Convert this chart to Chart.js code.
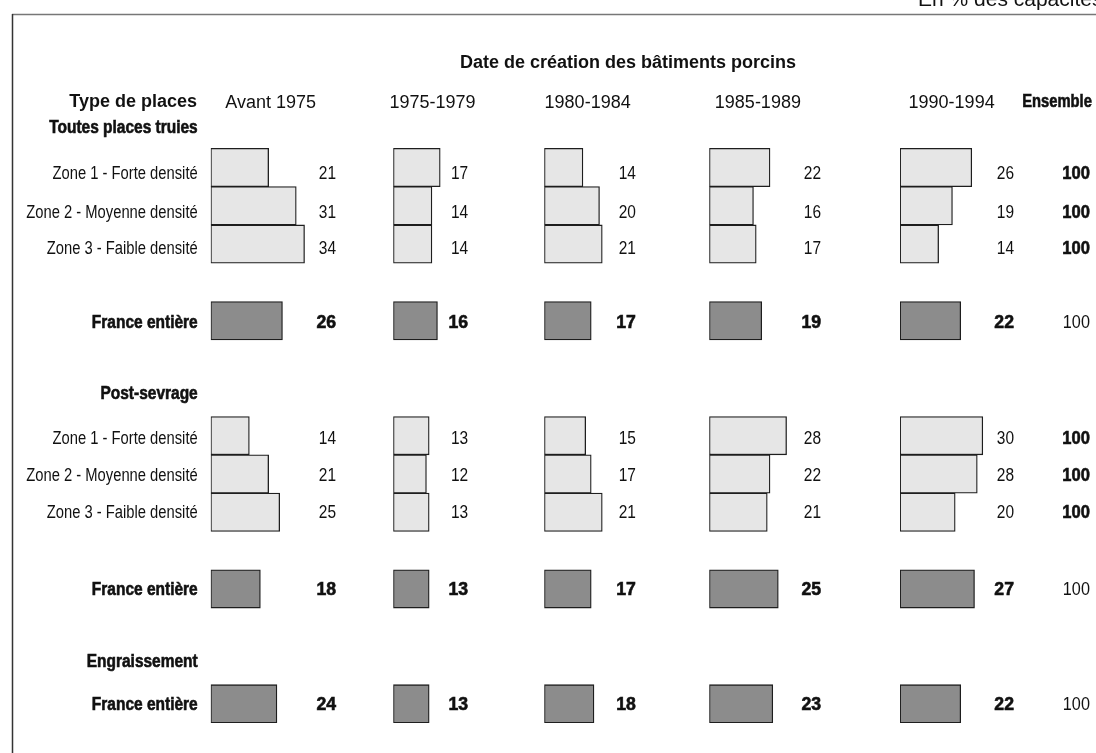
<!DOCTYPE html>
<html lang="fr">
<head>
<meta charset="utf-8">
<title>Date de création des bâtiments porcins</title>
<script src="https://cdn.jsdelivr.net/npm/chart.js@4/dist/chart.umd.min.js"></script>
<style>
  html, body { margin: 0; padding: 0; background: #fff; }
  #chart { display: block; }
</style>
</head>
<body>
<canvas id="chart" width="1096" height="753"></canvas>
<script>
// periodes de creation des batiments
const periods = ['Avant 1975', '1975-1979', '1980-1984', '1985-1989', '1990-1994'];

// en % des capacites, une valeur par periode
const truiesZone1 = [21, 17, 14, 22, 26];
const truiesZone2 = [31, 14, 20, 16, 19];
const truiesZone3 = [34, 14, 21, 17, 14];
const truiesFrance = [26, 16, 17, 19, 22];

const postZone1 = [14, 13, 15, 28, 30];
const postZone2 = [21, 12, 17, 22, 28];
const postZone3 = [25, 13, 21, 21, 20];
const postFrance = [18, 13, 17, 25, 27];

const engrFrance = [24, 13, 18, 23, 22];

const ensemble = 100;

// lignes du tableau: libelle, valeurs, type
const rows = [
    ['Toutes places truies', null, 'head'],
    ['Zone 1 - Forte densité', truiesZone1, 'zone'],
    ['Zone 2 - Moyenne densité', truiesZone2, 'zone'],
    ['Zone 3 - Faible densité', truiesZone3, 'zone'],
    ['', null, 'gap'],
    ['France entière', truiesFrance, 'france'],
    ['', null, 'gap'],
    ['Post-sevrage', null, 'head'],
    ['Zone 1 - Forte densité', postZone1, 'zone'],
    ['Zone 2 - Moyenne densité', postZone2, 'zone'],
    ['Zone 3 - Faible densité', postZone3, 'zone'],
    ['', null, 'gap'],
    ['France entière', postFrance, 'france'],
    ['', null, 'gap'],
    ['Engraissement', null, 'head'],
    ['France entière', engrFrance, 'france']
];

// mise en page (pixels / unites d'axe)
const SANS = '"Liberation Sans", Arial, sans-serif';
const pxPerUnit = 2.76;
const colWidths = [182.6, 151, 165, 190.7, 196];
const headerAt = [21.7, 14.2, 15.7, 17.6, 18.7];
const valueAt = [45.4, 27.1, 33.2, 40.5, 41.3];
const ensembleAt = 68.8;
const textShift = [-1, 7, 7, 5, 0, 2, 0, -3, 3, 2, 1, 0, 1, 0, -4, 1];

const labels = rows.map(r => r[0]);
const kinds = rows.map(r => r[2]);

const datasets = periods.map((p, i) => ({
    label: p,
    xAxisID: 'x' + i,
    yAxisID: 'y',
    data: rows.map(r => r[1] ? r[1][i] : null),
    backgroundColor: ctx => kinds[ctx.dataIndex] === 'france' ? '#8c8c8c' : '#e6e6e6',
    borderColor: '#1e1e1e',
    borderWidth: 1.3,
    borderSkipped: false,
    barPercentage: 1,
    categoryPercentage: 1,
    grouped: false
}));

const scales = {
    y: {
        type: 'category',
        position: 'left',
        grid: { display: false, drawTicks: false },
        border: { display: false },
        ticks: { display: false, autoSkip: false },
        afterFit: scale => { scale.width = 210.7; }
    }
};
periods.forEach((p, i) => {
    scales['x' + i] = {
        type: 'linear',
        axis: 'x',
        position: 'bottom',
        display: false,
        stack: 'cols',
        stackWeight: colWidths[i],
        min: 0,
        max: colWidths[i] / pxPerUnit
    };
});

// texte etroit : police compressee horizontalement
function narrowText(ctx, text, x, y, bold, align, squeeze) {
    ctx.save();
    ctx.translate(x, y);
    ctx.scale(squeeze, 1);
    ctx.font = (bold ? 'bold ' : '') + '18px ' + SANS;
    ctx.textAlign = align;
    ctx.fillText(text, 0, 0);
    if (bold) {
        ctx.lineWidth = 0.6;
        ctx.strokeStyle = ctx.fillStyle;
        ctx.strokeText(text, 0, 0);
    }
    ctx.restore();
}

const decor = {
    id: 'decor',
    beforeDraw(chart) {
        const ctx = chart.ctx;
        ctx.save();
        // cadre
        ctx.lineWidth = 1.5;
        ctx.strokeStyle = '#777';
        ctx.beginPath();
        ctx.moveTo(12, 14.5);
        ctx.lineTo(chart.width, 14.5);
        ctx.stroke();
        ctx.strokeStyle = '#333';
        ctx.beginPath();
        ctx.moveTo(12.5, 14);
        ctx.lineTo(12.5, chart.height);
        ctx.stroke();

        ctx.fillStyle = '#111';
        ctx.textBaseline = 'alphabetic';
        ctx.font = '21px ' + SANS;
        ctx.textAlign = 'left';
        ctx.fillText('En % des capacités', 918, 6);

        ctx.font = 'bold 18px ' + SANS;
        ctx.textAlign = 'center';
        ctx.fillText('Date de création des bâtiments porcins', 628, 68);

        ctx.textAlign = 'right';
        ctx.fillText('Type de places', 197, 107);

        ctx.font = '18px ' + SANS;
        ctx.textAlign = 'center';
        periods.forEach((p, i) => {
            const x = chart.scales['x' + i].getPixelForValue(headerAt[i]);
            ctx.fillText(p, x, 108);
        });

        narrowText(ctx, 'Ensemble', chart.scales.x4.getPixelForValue(ensembleAt) + 2, 107, true, 'right', 0.82);

        // libelles des lignes
        ctx.textBaseline = 'middle';
        const yScale = chart.scales.y;
        labels.forEach((lab, j) => {
            if (!lab) return;
            const bold = kinds[j] !== 'zone';
            const y = yScale.getPixelForTick(j) + textShift[j];
            narrowText(ctx, lab, yScale.right - 13, y, bold, 'right', bold ? 0.86 : 0.82);
        });
        ctx.restore();
    },
    afterDatasetsDraw(chart) {
        const ctx = chart.ctx;
        ctx.save();
        ctx.fillStyle = '#111';
        ctx.textBaseline = 'middle';
        chart.data.datasets.forEach((ds, i) => {
            const meta = chart.getDatasetMeta(i);
            const x = chart.scales['x' + i].getPixelForValue(valueAt[i]);
            ds.data.forEach((v, j) => {
                if (v === null) return;
                const bold = kinds[j] === 'france';
                narrowText(ctx, String(v), x, meta.data[j].y + textShift[j], bold, 'right', bold ? 0.98 : 0.86);
            });
        });
        // colonne Ensemble
        const meta0 = chart.getDatasetMeta(0);
        const xe = chart.scales.x4.getPixelForValue(ensembleAt);
        kinds.forEach((k, j) => {
            if (k !== 'zone' && k !== 'france') return;
            const bold = k === 'zone';
            narrowText(ctx, String(ensemble), xe, meta0.data[j].y + textShift[j], bold, 'right', bold ? 0.92 : 0.9);
        });
        ctx.restore();
    }
};

new Chart(document.getElementById('chart'), {
    type: 'bar',
    data: { labels: labels, datasets: datasets },
    options: {
        indexAxis: 'y',
        responsive: false,
        animation: false,
        layout: { padding: { left: 0, right: 0, top: 110, bottom: 30 } },
        plugins: {
            legend: { display: false },
            title: { display: false },
            tooltip: { enabled: false }
        },
        scales: scales
    },
    plugins: [decor]
});
</script>
</body>
</html>
